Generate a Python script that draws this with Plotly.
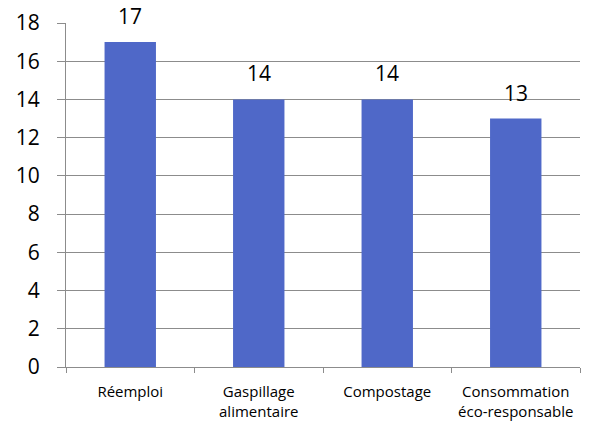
import plotly.graph_objects as go

categories = ["Réemploi", "Gaspillage<br>alimentaire", "Compostage", "Consommation<br>éco-responsable"]
values = [17, 14, 14, 13]
y_ticks = [0, 2, 4, 6, 8, 10, 12, 14, 16, 18]

bar_color = "#4F68C8"
grid_color = "#8C8C8C"
font_family = "Open Sans, Carlito, Calibri, sans-serif"

fig = go.Figure()
fig.add_trace(go.Bar(
    x=categories, y=values,
    marker=dict(color=bar_color, line=dict(width=0)),
    width=0.4,
))

for c, v in zip(categories, values):
    fig.add_annotation(
        x=c, y=v, text=str(v), showarrow=False,
        yanchor="bottom", yshift=11, borderpad=0,
        font=dict(family=font_family, size=21, color="#000000"),
    )

fig.update_layout(
    width=592, height=427,
    margin=dict(l=66, r=12, t=23, b=60),
    paper_bgcolor="white", plot_bgcolor="white",
    showlegend=False,
    font=dict(family=font_family, color="#000000"),
)
fig.update_xaxes(
    type="category", automargin=False,
    showline=True, linecolor=grid_color, linewidth=1,
    ticks="outside", tickson="boundaries", ticklen=5, tickcolor=grid_color,
    tickfont=dict(size=15, family=font_family, color="#000000"),
    ticklabelstandoff=11,
    showgrid=False,
)
fig.update_yaxes(
    range=[0, 18], tickvals=y_ticks, automargin=False,
    showline=True, linecolor=grid_color, linewidth=1,
    showgrid=True, gridcolor=grid_color, gridwidth=1,
    ticks="outside", ticklen=8, tickcolor=grid_color,
    tickfont=dict(size=21, family=font_family, color="#000000"),
    ticklabelstandoff=13,
    zeroline=False,
)

fig.write_html("out.html")
